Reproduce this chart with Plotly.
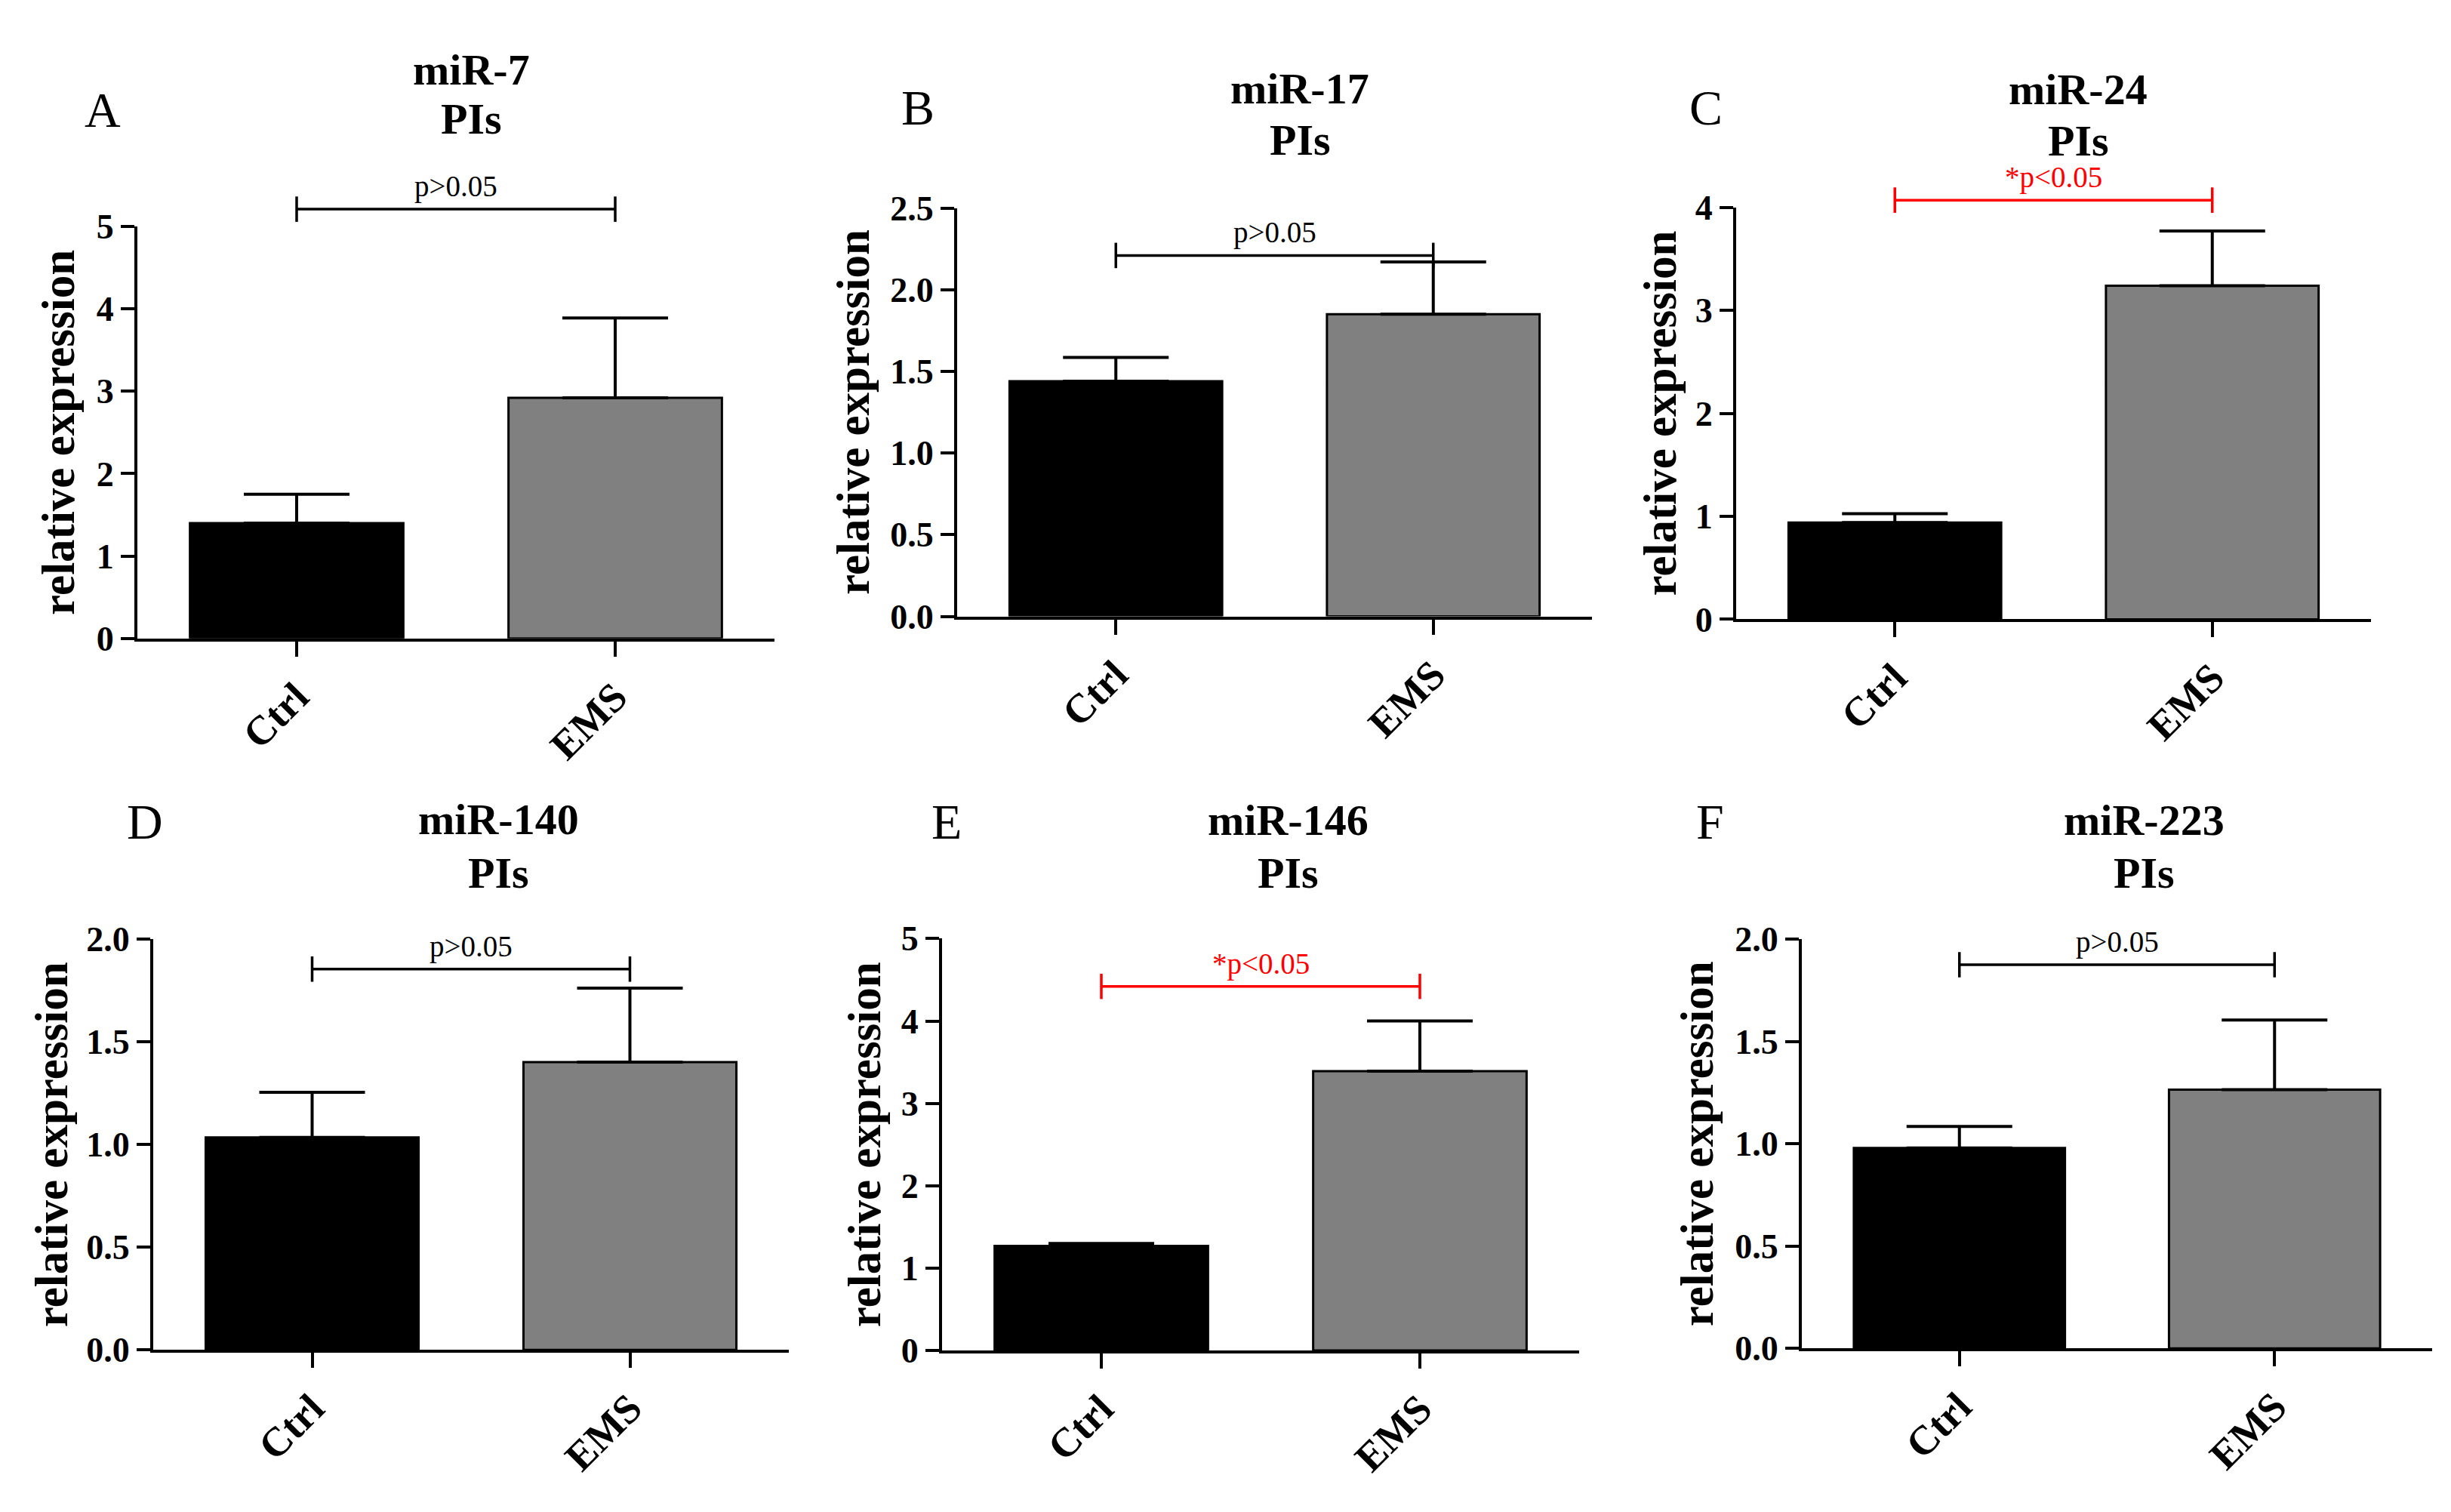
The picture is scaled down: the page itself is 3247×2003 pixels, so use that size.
import plotly.graph_objects as go

W, H = 3247, 2003
FONT = "Liberation Serif"

panel_letters = ["A", "B", "C", "D", "E", "F"]
mirnas = ["miR-7", "miR-17", "miR-24", "miR-140", "miR-146", "miR-223"]
sample = "PIs"
groups = ["Ctrl", "EMS"]

ctrl_mean = [1.40, 1.44, 0.94, 1.035, 1.27, 0.98]
ctrl_err = [0.35, 0.145, 0.085, 0.22, 0.03, 0.105]
ems_mean = [2.92, 1.85, 3.24, 1.402, 3.39, 1.265]
ems_err = [0.97, 0.32, 0.53, 0.36, 0.61, 0.34]

y_max = [5, 2.5, 4, 2.0, 5, 2.0]
y_step = [1, 0.5, 1, 0.5, 1, 0.5]

bracket_y = [5.21, 2.21, 4.07, 1.855, 4.42, 1.876]
p_text = ["p>0.05", "p>0.05", "*p<0.05", "p>0.05", "*p<0.05", "p>0.05"]
significant = [False, False, True, False, True, False]

bar_colors = ["#000000", "#808080"]

# plot areas in pixels: left, right, top, bottom
boxes = [(174, 1018, 274, 834), (1260, 2101, 249, 804), (2292, 3133, 248, 808),
         (195, 1037, 1243, 1801), (1240, 2084, 1242, 1802), (2379, 3214, 1243, 1799)]
# label positions in pixels
letter_pos = [(128, 115), (1208, 112), (2252, 112), (184, 1083), (1246, 1083), (2257, 1083)]
title_pos = [(616, 61, 128), (1714, 87, 156), (2745, 88, 157),
             (652, 1080, 1153), (1698, 1081, 1153), (2832, 1081, 1153)]
ytitle_x = [70, 1122, 2192, 60, 1137, 2240]
EXT = 160  # extra room above each plot for the bracket


def px(x):
    return x / W


def py(y):
    return 1 - y / H


fig = go.Figure()
annotations = []

for i in range(6):
    n = "" if i == 0 else str(i + 1)
    k = str(i + 7)
    xa, ya = "x" + n, "y" + n
    xb, yb = "x" + k, "y" + k
    col = "#ff0000" if significant[i] else "#000000"
    l, r, t, b = boxes[i]

    fig.add_trace(go.Bar(
        x=groups, y=[ctrl_mean[i], ems_mean[i]], width=0.67,
        marker=dict(color=bar_colors, line=dict(color="black", width=3)),
        error_y=dict(type="data", symmetric=False, array=[ctrl_err[i], ems_err[i]],
                     arrayminus=[0, 0], color="black", thickness=4, width=70),
        xaxis=xa, yaxis=ya, showlegend=False))

    # significance bracket on a hidden axis sharing the same scale
    fig.add_trace(go.Scatter(
        x=groups, y=[bracket_y[i], bracket_y[i]], mode="lines+markers",
        line=dict(color=col, width=3.5),
        marker=dict(symbol="line-ns-open", size=24, color=col, line=dict(color=col, width=3.5)),
        xaxis=xb, yaxis=yb, showlegend=False, hoverinfo="skip"))

    fig.layout["xaxis" + n] = dict(
        domain=[px(l), px(r)], anchor=ya, type="category", range=[-0.5, 1.5],
        showline=True, linewidth=4, linecolor="black", showgrid=False, zeroline=False,
        ticks="outside", ticklen=20, tickwidth=4, tickcolor="black", tickangle=-45,
        tickfont=dict(family=FONT, size=54, color="black", weight="bold"))
    fig.layout["yaxis" + n] = dict(
        domain=[py(b), py(t)], anchor=xa, range=[0, y_max[i]], dtick=y_step[i], tick0=0,
        tickformat=".1f" if y_step[i] < 1 else "d",
        showline=True, linewidth=4, linecolor="black", showgrid=False, zeroline=False,
        ticks="outside", ticklen=18, tickwidth=4, tickcolor="black",
        tickfont=dict(family=FONT, size=46, color="black", weight="bold"))
    fig.layout["xaxis" + k] = dict(
        domain=[px(l), px(r)], anchor=yb, type="category", range=[-0.5, 1.5], visible=False)
    fig.layout["yaxis" + k] = dict(
        domain=[py(b), py(t - EXT)], anchor=xb,
        range=[0, y_max[i] * (b - t + EXT) / (b - t)], visible=False)

    annotations.append(dict(x=0.5, y=bracket_y[i], xref=xb, yref=yb, text=p_text[i],
                            showarrow=False, yanchor="middle", yshift=30,
                            font=dict(family=FONT, size=39, color=col)))
    lx, ly = letter_pos[i]
    annotations.append(dict(x=px(lx), y=py(ly), xref="paper", yref="paper", text=panel_letters[i],
                            showarrow=False, xanchor="center", yanchor="middle",
                            font=dict(family=FONT, size=66, color="black")))
    tx, ty1, ty2 = title_pos[i]
    annotations.append(dict(x=px(tx), y=py(ty1), xref="paper", yref="paper", text=mirnas[i],
                            showarrow=False, xanchor="center", yanchor="middle",
                            font=dict(family=FONT, size=58, color="black", weight="bold")))
    annotations.append(dict(x=px(tx), y=py(ty2), xref="paper", yref="paper", text=sample,
                            showarrow=False, xanchor="center", yanchor="middle",
                            font=dict(family=FONT, size=58, color="black", weight="bold")))
    annotations.append(dict(x=px(ytitle_x[i]), y=py((t + b) / 2), xref="paper", yref="paper",
                            text="relative expression", textangle=-90,
                            showarrow=False, xanchor="center", yanchor="middle",
                            font=dict(family=FONT, size=61, color="black", weight="bold")))

fig.update_layout(width=W, height=H, margin=dict(l=0, r=0, t=0, b=0),
                  paper_bgcolor="white", plot_bgcolor="rgba(0,0,0,0)",
                  annotations=annotations)

fig.write_html("out.html")
